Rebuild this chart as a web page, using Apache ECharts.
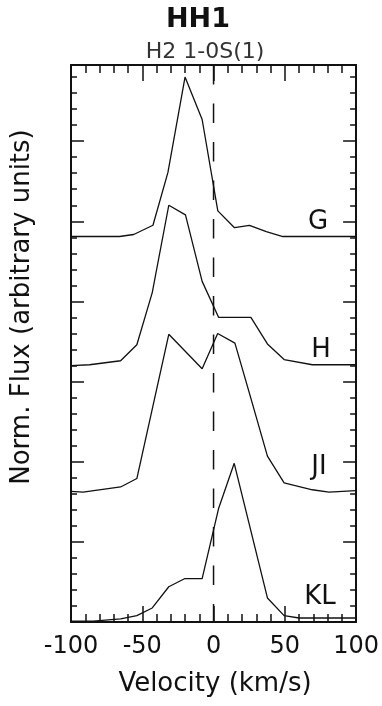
<!DOCTYPE html>
<html>
<head>
<meta charset="utf-8">
<title>HH1 H2 1-0S(1)</title>
<script src="https://cdn.jsdelivr.net/npm/echarts@6/dist/echarts.min.js"></script>
<style>
  html, body { margin: 0; padding: 0; background: #fff; }
  #chart { width: 382px; height: 706px; }
</style>
</head>
<body>
<div id="chart"></div>
<script>
// profile names, bottom to top offsets (arbitrary units)
const names = ['G', 'H', 'JI', 'KL'];
const offsets = [4.8, 3.2, 1.6, 0];

// velocity (km/s) / normalized flux
const gVel = [-100, -66, -56, -42.5, -32, -20, -8, 3, 14.7, 25.2, 37, 48.6, 100];
const gFlux = [0.01, 0.01, 0.035, 0.15, 0.81, 2.0, 1.47, 0.33, 0.12, 0.15, 0.07, 0.01, 0.01];

const hVel = [-100, -87, -65.2, -53.8, -43, -31.4, -19.7, -8, 3.6, 26.2, 37.8, 49.5, 69.3, 100];
const hFlux = [0.0, 0.01, 0.06, 0.26, 0.91, 2.0, 1.88, 1.05, 0.6, 0.6, 0.27, 0.075, 0.01, 0.01];

const jiVel = [-100, -91.5, -65.2, -53.8, -31.4, -8, 2.9, 15, 26.2, 37.8, 49.5, 69.3, 81, 100];
const jiFlux = [0.03, 0.02, 0.085, 0.19, 1.99, 1.56, 2.0, 1.88, 1.19, 0.47, 0.135, 0.05, 0.02, 0.04];

const klVel = [-100, -84.5, -65.2, -53.8, -43, -31.4, -20.4, -8, 3.6, 14.5, 37.8, 49.5, 60, 100];
const klFlux = [0.01, 0.01, 0.04, 0.08, 0.175, 0.44, 0.54, 0.54, 1.42, 1.98, 0.30, 0.08, 0.05, 0.05];

const velTicks = [-100, -50, 0, 50, 100];
const velMinorStep = 10;
const fluxRange = [0, 6.95];
const fluxMajorStep = 1;
const fluxMinorStep = 0.2;
const restVel = 0;

const profiles = [[gVel, gFlux], [hVel, hFlux], [jiVel, jiFlux], [klVel, klFlux]];

const font = 'DejaVu Sans';
const ink = '#111';

const chart = echarts.init(document.getElementById('chart'));

// one axis per side for the long ticks, one more per side for the short ones
function xAxisOf(pos, step, tickLen, withLine, withLabels) {
  return {
    type: 'value',
    position: pos,
    min: velTicks[0],
    max: velTicks[velTicks.length - 1],
    interval: step,
    axisLine: { show: withLine, onZero: false, lineStyle: { color: ink, width: 2 } },
    axisTick: { show: true, inside: true, length: tickLen, lineStyle: { color: ink, width: 1.5 } },
    axisLabel: withLabels
      ? { show: true, color: ink, fontFamily: font, fontSize: 24, margin: 13 }
      : { show: false },
    splitLine: { show: false }
  };
}

function yAxisOf(pos, step, tickLen, withLine) {
  return {
    type: 'value',
    position: pos,
    min: fluxRange[0],
    max: fluxRange[1],
    interval: step,
    axisLine: { show: withLine, onZero: false, lineStyle: { color: ink, width: 2 } },
    axisTick: { show: true, inside: true, length: tickLen, lineStyle: { color: ink, width: 1.5 } },
    axisLabel: { show: false },
    splitLine: { show: false }
  };
}

const majorX = velTicks[1] - velTicks[0];

const series = profiles.map(function (p, i) {
  return {
    name: names[i],
    type: 'line',
    xAxisIndex: 0,
    yAxisIndex: 0,
    data: p[0].map(function (v, j) { return [v, p[1][j] + offsets[i]]; }),
    showSymbol: false,
    symbol: 'none',
    lineStyle: { color: ink, width: 1.3 },
    silent: true
  };
});

// zero-velocity reference, drawn top to bottom
series.push({
  name: 'v0',
  type: 'line',
  xAxisIndex: 0,
  yAxisIndex: 0,
  data: [[restVel, fluxRange[1]], [restVel, fluxRange[0]]],
  showSymbol: false,
  symbol: 'none',
  lineStyle: { color: ink, width: 1.5, type: [19.5, 19], dashOffset: 0 },
  silent: true
});

const textStyle = function (txt, size, extra) {
  return Object.assign({
    text: txt,
    fill: ink,
    font: size + 'px "' + font + '"',
    textAlign: 'center',
    textVerticalAlign: 'middle'
  }, extra || {});
};

const curveLabels = [[318, 222], [321, 350], [319, 467], [320, 597]];

const graphics = [
  { type: 'text', x: 198, y: 20, style: textStyle('HH1', 27, { font: 'bold 27px "' + font + '"' }) },
  { type: 'text', x: 205, y: 52, style: textStyle('H2 1-0S(1)', 22, { fill: '#333' }) },
  { type: 'text', x: 215, y: 684, style: textStyle('Velocity (km/s)', 26) },
  { type: 'text', x: 22, y: 307, rotation: Math.PI / 2, style: textStyle('Norm. Flux (arbitrary units)', 26) }
].concat(names.map(function (n, i) {
  return { type: 'text', x: curveLabels[i][0], y: curveLabels[i][1], style: textStyle(n, 26) };
}));

chart.setOption({
  animation: false,
  backgroundColor: '#fff',
  grid: { left: 71, right: 25, top: 65, bottom: 84, containLabel: false },
  xAxis: [
    xAxisOf('bottom', majorX, 16, true, true),
    xAxisOf('top', majorX, 16, true, false),
    xAxisOf('bottom', velMinorStep, 8, false, false),
    xAxisOf('top', velMinorStep, 8, false, false)
  ],
  yAxis: [
    yAxisOf('left', fluxMajorStep, 13, true),
    yAxisOf('right', fluxMajorStep, 13, true),
    yAxisOf('left', fluxMinorStep, 6, false),
    yAxisOf('right', fluxMinorStep, 6, false)
  ],
  series: series,
  graphic: graphics
});
</script>
</body>
</html>
